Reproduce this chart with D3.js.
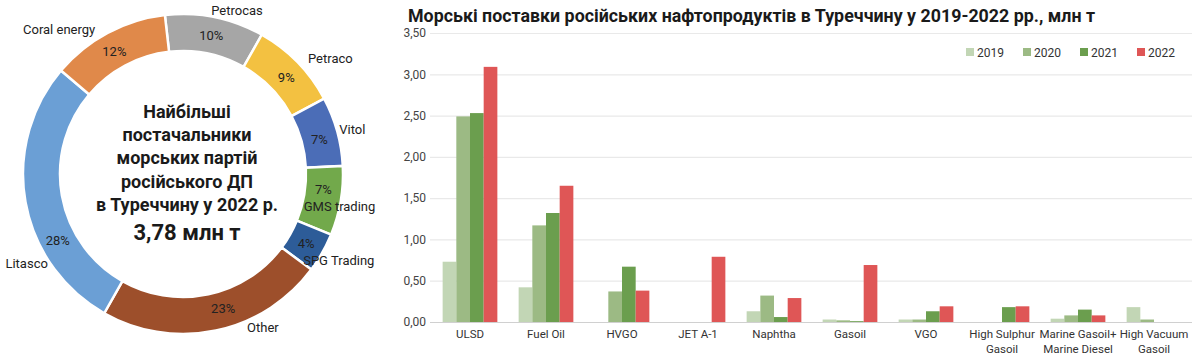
<!DOCTYPE html>
<html><head><meta charset="utf-8">
<script src="https://cdn.jsdelivr.net/npm/d3@7"></script>
<style>html,body{margin:0;padding:0;background:#fff;}svg{display:block;font-family:Roboto,"Open Sans",sans-serif;}</style>
</head><body>
<svg id="c" width="1200" height="354"></svg>
<script>
// ---------- Donut data ----------
const suppliers = ["Petrocas","Petraco","Vitol","GMS trading","SPG Trading","Other","Litasco","Coral energy"];
const shares = [10, 9, 7, 7, 4, 23, 28, 12];
const donutTitle = ["Найбільші","постачальники","морських партій","російського ДП","в Туреччину у 2022 р."];
const donutTotal = "3,78 млн т";

// ---------- Bar data ----------
const products = [["ULSD"],["Fuel Oil"],["HVGO"],["JET A-1"],["Naphtha"],["Gasoil"],["VGO"],["High Sulphur","Gasoil"],["Marine Gasoil+","Marine Diesel"],["High Vacuum","Gasoil"]];
const years = ["2019","2020","2021","2022"];
const v2019 = [0.73, 0.42, 0, 0, 0.13, 0.03, 0.03, 0, 0.04, 0.18];
const v2020 = [2.49, 1.17, 0.37, 0, 0.32, 0.02, 0.03, 0, 0.08, 0.03];
const v2021 = [2.53, 1.32, 0.67, 0, 0.06, 0.01, 0.13, 0.18, 0.15, 0];
const v2022 = [3.09, 1.65, 0.38, 0.79, 0.29, 0.69, 0.19, 0.19, 0.08, 0];
const yTicks = [0, 0.5, 1, 1.5, 2, 2.5, 3, 3.5];
const chartTitle = "Морські поставки російських нафтопродуктів в Туреччину у 2019-2022 рр., млн т";

// ---------- styles / layout (not data) ----------
const sliceColors = ["#a6a6a6","#f3c141","#4b6db7","#72a94b","#2d5c98","#9d4f2b","#6b9fd5","#e0894a"];
const yearColors = ["#c2d6b5","#9cba84","#6b9e4e","#df5656"];
const nameLayout = [[18.3,172],[52,187],[75.4,175],[101.9,160],[118.9,178],[152.5,173],[240.3,180],[-40.7,190]];
const pctOffset = [[0,0],[2,2],[0,3],[1,-8],[0,0],[11,-4],[14,42],[-2,2]];

const svg = d3.select("#c");
const fmt = d => d3.format(".2f")(d).replace(".", ",");

// ===== Donut =====
const cx = 183, cy = 174, rIn = 123, rOut = 160;
const g = svg.append("g").attr("transform", `translate(${cx},${cy})`);
const startA = -6.5 * Math.PI / 180;
const pie = d3.pie().sort(null).value(d => d).startAngle(startA).endAngle(startA + 2*Math.PI);
const arcs = pie(shares);
const arc = d3.arc().innerRadius(rIn).outerRadius(rOut);
g.selectAll("path.s").data(arcs).join("path")
  .attr("d", arc).attr("fill", (d,i) => sliceColors[i])
  .attr("stroke", "#fff").attr("stroke-width", 2.5);

g.selectAll("text.pct").data(arcs).join("text")
  .attr("x", (d,i) => arc.centroid(d)[0] + pctOffset[i][0])
  .attr("y", (d,i) => arc.centroid(d)[1] + pctOffset[i][1])
  .attr("text-anchor","middle").attr("dominant-baseline","central")
  .attr("font-size", 13).attr("fill", "#222")
  .text(d => d.data + "%");

g.selectAll("text.nm").data(arcs).join("text")
  .attr("x", (d,i) => Math.sin(nameLayout[i][0]*Math.PI/180) * nameLayout[i][1])
  .attr("y", (d,i) => -Math.cos(nameLayout[i][0]*Math.PI/180) * nameLayout[i][1])
  .attr("text-anchor","middle").attr("dominant-baseline","central")
  .attr("font-size", 13).attr("fill", "#222")
  .text((d,i) => suppliers[i]);

const ct = svg.append("text").attr("text-anchor","middle").attr("font-weight","bold").attr("fill","#1a1a1a");
donutTitle.forEach((t,i) => {
  ct.append("tspan").attr("x", 187).attr("y", 118 + i*23.2).attr("font-size", 18).text(t);
});
ct.append("tspan").attr("x", 187).attr("y", 240).attr("font-size", 22).text(donutTotal);

// ===== Bars =====
const pLeft = 432, pRight = 1192, pTop = 33, pBottom = 322;
svg.append("text").attr("x", 408).attr("y", 22).attr("font-size", 19).attr("font-weight","bold")
  .attr("textLength", 687).attr("lengthAdjust", "spacingAndGlyphs")
  .attr("fill","#1a1a1a").text(chartTitle);

const y = d3.scaleLinear().domain([0, 3.5]).range([pBottom, pTop]);
const x0 = d3.scaleBand().domain(d3.range(products.length)).range([pLeft, pRight]).paddingInner(0.28).paddingOuter(0.14);
const x1 = d3.scaleBand().domain(years).range([0, x0.bandwidth()]);
const series = [v2019, v2020, v2021, v2022];

const yAxis = d3.axisLeft(y).tickValues(yTicks).tickFormat(fmt).tickSize(-(pRight - 430)).tickPadding(4);
const ya = svg.append("g").attr("transform", `translate(430,0)`).call(yAxis);
ya.select(".domain").remove();
ya.selectAll(".tick line").attr("stroke", d => d === 0 ? "#d0d0d0" : "#e9e9e9").attr("stroke-width", 1.2);
ya.selectAll(".tick text").attr("font-size", 12).attr("fill", "#444").attr("font-family", 'Roboto,sans-serif');

const bars = svg.append("g");
years.forEach((yr, k) => {
  bars.append("g").selectAll("rect").data(series[k]).join("rect")
    .attr("x", (d,i) => x0(i) + x1(yr))
    .attr("y", d => y(d))
    .attr("width", x1.bandwidth())
    .attr("height", d => pBottom - y(d))
    .attr("fill", yearColors[k]);
});

const xl = svg.append("g");
products.forEach((p, i) => {
  const t = xl.append("text").attr("text-anchor","middle").attr("font-size", 11.5).attr("fill","#333");
  p.forEach((line, j) => t.append("tspan").attr("x", x0(i) + x0.bandwidth()/2).attr("y", 338 + j*14.5).text(line));
});

// legend
const lg = svg.append("g");
years.forEach((yr, k) => {
  const lx = 966 + k*57;
  lg.append("rect").attr("x", lx).attr("y", 48).attr("width", 8).attr("height", 8).attr("fill", yearColors[k]);
  lg.append("text").attr("x", lx + 11).attr("y", 56.5).attr("font-size", 12).attr("fill","#333").text(yr);
});
</script>
</body></html>
